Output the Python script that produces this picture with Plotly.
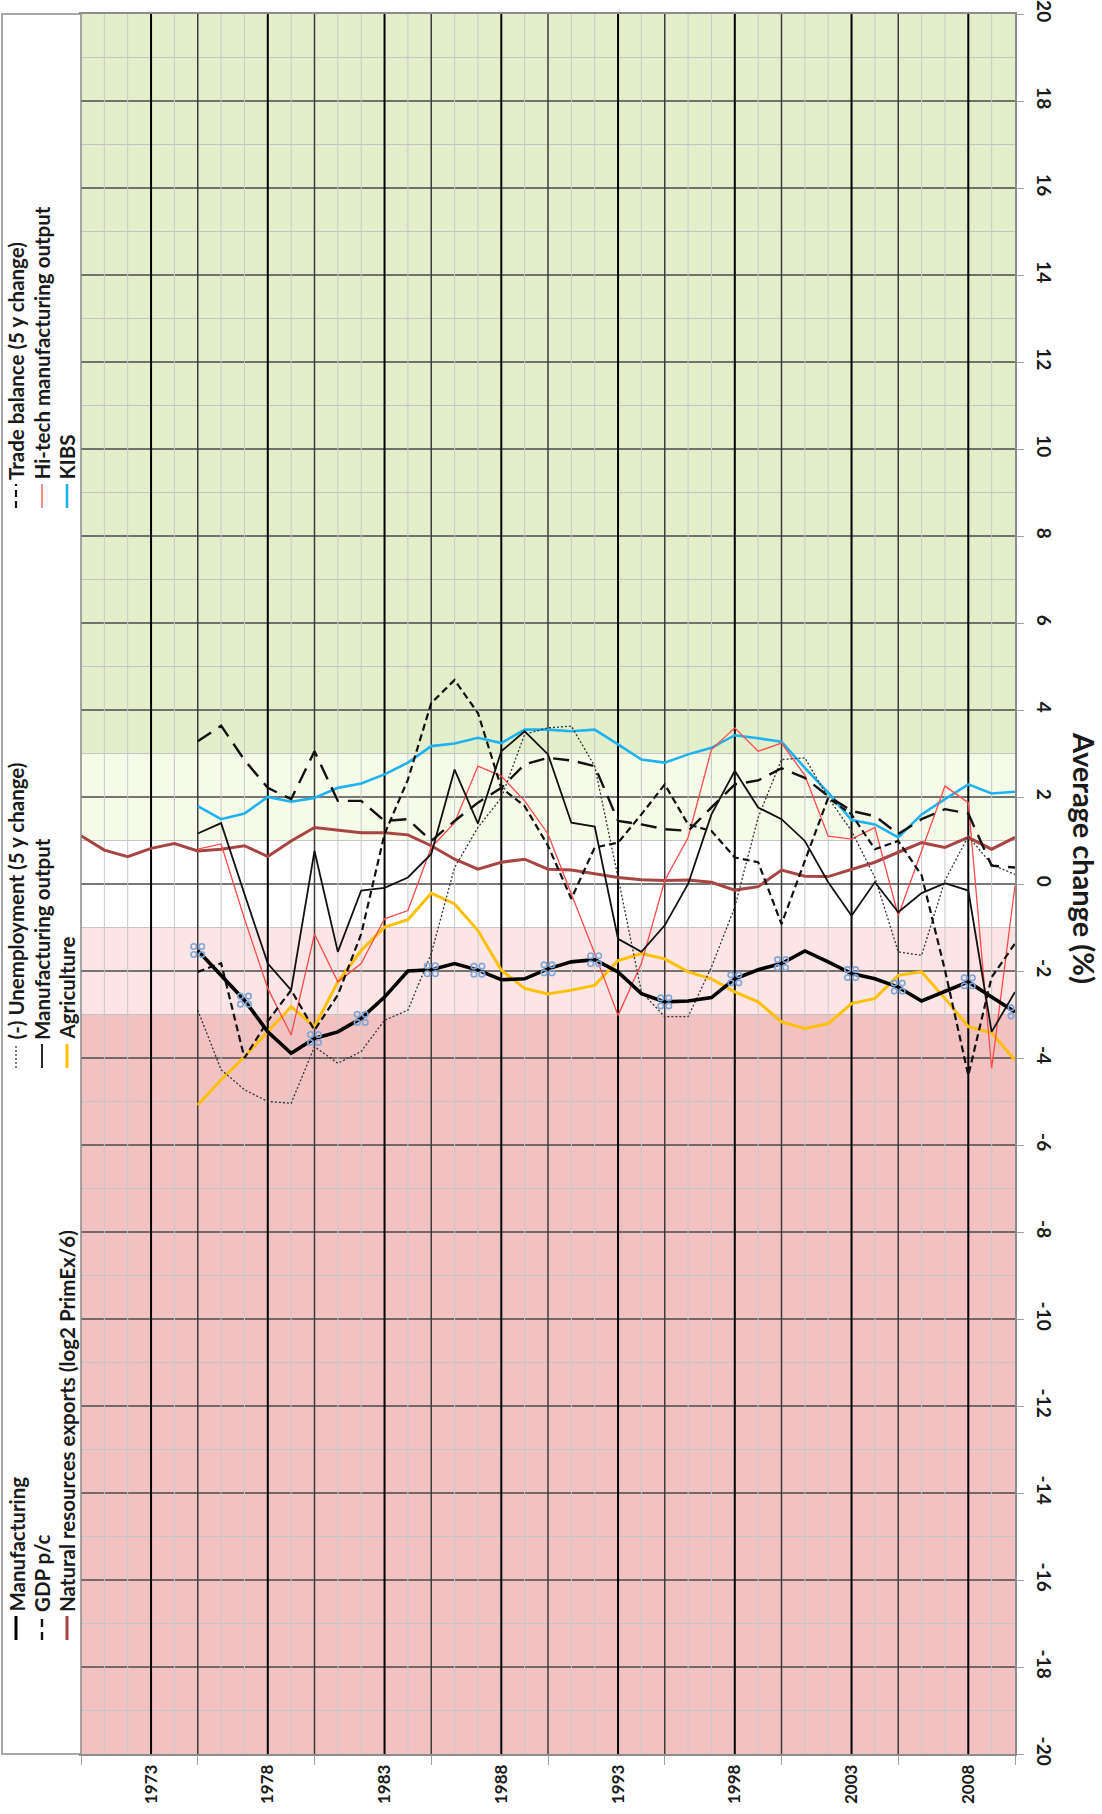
import plotly.graph_objects as go

# ---------------------------------------------------------------- data
years = list(range(1970, 2011))          # natural resources series covers all years
years_s = list(range(1975, 2011))        # all other series start in 1975

natural_resources = [1.11, 0.78, 0.63, 0.82, 0.93, 0.76, 0.80, 0.88, 0.63, 0.99,
                     1.30, 1.24, 1.18, 1.18, 1.13, 0.88, 0.57, 0.34, 0.50, 0.57,
                     0.34, 0.32, 0.23, 0.15, 0.10, 0.08, 0.09, 0.04, -0.14, -0.06,
                     0.32, 0.18, 0.17, 0.34, 0.50, 0.73, 0.95, 0.84, 1.07, 0.80, 1.07]

manufacturing = [-1.53, -2.10, -2.67, -3.40, -3.89, -3.55, -3.40, -3.09, -2.60, -2.00,
                 -1.97, -1.83, -1.98, -2.20, -2.18, -1.95, -1.79, -1.74, -2.02, -2.52,
                 -2.71, -2.69, -2.61, -2.18, -1.97, -1.83, -1.54, -1.79, -2.06, -2.18,
                 -2.37, -2.69, -2.48, -2.25, -2.60, -2.94]

manufacturing_output = [1.16, 1.40, -0.23, -1.83, -2.44, 0.76, -1.56, -0.15, -0.09, 0.15,
                        0.69, 2.63, 1.39, 3.05, 3.51, 2.98, 1.41, 1.32, -1.26, -1.56,
                        -0.95, 0.00, 1.60, 2.60, 1.76, 1.49, 0.99, 0.04, -0.73, 0.04,
                        -0.65, -0.21, 0.02, -0.15, -3.40, -2.48]

hitech_output = [0.80, 0.92, -0.80, -2.40, -3.47, -1.15, -2.25, -1.83, -0.80, -0.61,
                 0.84, 1.41, 2.71, 2.48, 1.91, 1.15, -0.23, -1.60, -3.02, -1.83,
                 0.08, 1.07, 3.09, 3.59, 3.05, 3.24, 2.50, 1.10, 1.03, 1.30,
                 -0.73, 0.76, 2.25, 1.87, -4.24, -0.04]

kibs = [1.79, 1.49, 1.62, 2.00, 1.89, 1.98, 2.21, 2.31, 2.52, 2.79,
        3.17, 3.23, 3.36, 3.24, 3.55, 3.55, 3.51, 3.55, 3.21, 2.86,
        2.79, 2.98, 3.13, 3.42, 3.35, 3.27, 2.67, 2.10, 1.47, 1.37,
        1.07, 1.60, 1.95, 2.29, 2.08, 2.12]

agriculture = [-5.08, -4.50, -3.97, -3.40, -2.82, -3.28, -2.25, -1.53, -0.99, -0.82,
               -0.21, -0.46, -1.07, -1.98, -2.40, -2.53, -2.44, -2.33, -1.76, -1.60,
               -1.72, -2.02, -2.18, -2.48, -2.71, -3.17, -3.32, -3.21, -2.75, -2.63,
               -2.10, -2.02, -2.63, -3.28, -3.42, -4.05]

gdp_pc = [3.28, 3.64, 2.85, 2.21, 1.95, 3.05, 1.91, 1.91, 1.45, 1.49,
          0.99, 1.45, 1.87, 2.21, 2.75, 2.90, 2.84, 2.71, 1.45, 1.37,
          1.26, 1.22, 1.76, 2.29, 2.38, 2.66, 2.44, 2.02, 1.68, 1.56,
          1.15, 1.49, 1.72, 1.62, 0.42, 0.38]

trade_balance = [-2.02, -1.82, -4.00, -3.15, -2.44, -3.36, -2.55, -1.15, 1.15, 2.40,
                 4.16, 4.69, 3.93, 2.21, 1.79, 0.88, -0.34, 0.84, 0.95, 1.60,
                 2.29, 1.37, 1.22, 0.61, 0.50, -0.92, 0.53, 1.98, 1.60, 0.80,
                 0.99, 0.20, -1.98, -4.40, -2.14, -1.37]

unemployment = [-2.90, -4.27, -4.73, -5.00, -5.04, -3.74, -4.12, -3.85, -3.13, -2.90,
                -1.60, 0.38, 1.30, 1.98, 3.44, 3.59, 3.63, 2.71, 0.15, -2.48,
                -3.05, -3.05, -1.91, -0.53, 1.53, 2.86, 2.90, 1.98, 1.22, 0.15,
                -1.56, -1.64, 0.08, 1.10, 0.45, 0.22]

marker_years = [1975, 1977, 1980, 1982, 1985, 1987, 1990, 1992, 1995, 1998,
                2000, 2003, 2005, 2008, 2010]

year_labels = [1973, 1978, 1983, 1988, 1993, 1998, 2003, 2008]
value_ticks = list(range(-20, 21, 2))

band_edges = [-20, -3, -1, 1, 3, 20]
band_colors = ["#F2C2C2", "#FDE5E5", "#FFFFFF", "#F6FAE8", "#E3EFCA"]

# ---------------------------------------------------------------- geometry
W, H = 1102, 1814
PX_L, PX_R, PX_T, PX_B = 81, 1015, 14, 1754


def px_x(px):
    return (px - PX_L) / (PX_R - PX_L)


def px_y(py):
    return (PX_B - py) / (PX_B - PX_T)


FONT = "Lato, Carlito, Calibri, sans-serif"

styles = {
    "Manufacturing": dict(color="#000000", width=3.6),
    "GDP p/c": dict(color="#111111", width=2.4, dash="16px,9px"),
    "Natural resources exports (log2 PrimEx/6)": dict(color="#A64543", width=3),
    "(-) Unemployment (5 y change)": dict(color="#333333", width=1.3, dash="2px,2px"),
    "Manufacturing output": dict(color="#111111", width=1.8),
    "Agriculture": dict(color="#FFC000", width=3),
    "Trade balance (5 y change)": dict(color="#111111", width=2.2, dash="7px,4px"),
    "Hi-tech manufacturing output": dict(color="#FF4A4A", width=1.3),
    "KIBS": dict(color="#1DB2F0", width=2.6),
}

fig = go.Figure()

# draw order: lighter context series first, headline series on top
series = [
    ("Natural resources exports (log2 PrimEx/6)", years, natural_resources),
    ("Agriculture", years_s, agriculture),
    ("KIBS", years_s, kibs),
    ("Hi-tech manufacturing output", years_s, hitech_output),
    ("(-) Unemployment (5 y change)", years_s, unemployment),
    ("Manufacturing output", years_s, manufacturing_output),
    ("Trade balance (5 y change)", years_s, trade_balance),
    ("GDP p/c", years_s, gdp_pc),
    ("Manufacturing", years_s, manufacturing),
]
for name, xs, ys in series:
    fig.add_trace(go.Scatter(x=xs, y=ys, mode="lines", name=name,
                             line=styles[name], showlegend=False,
                             hoverinfo="x+y+name"))

# four-ring markers on the manufacturing line
MARKER_BLUE = "#7FA6D6"
mk_vals = [manufacturing[years_s.index(y)] for y in marker_years]
dx = 4.0 / ((PX_R - PX_L) / 40.0)
dy = 4.0 / ((PX_B - PX_T) / 40.0)
for sx in (-1, 1):
    for sy in (-1, 1):
        fig.add_trace(go.Scatter(
            x=[y + sx * dx for y in marker_years],
            y=[v + sy * dy for v in mk_vals],
            mode="markers", showlegend=False, hoverinfo="skip",
            marker=dict(symbol="circle-open", size=5.5, color=MARKER_BLUE,
                        line=dict(color=MARKER_BLUE, width=1.6))))

shapes = []
# background bands
for lo, hi, col in zip(band_edges[:-1], band_edges[1:], band_colors):
    shapes.append(dict(type="rect", xref="paper", yref="y", x0=0, x1=1,
                       y0=lo, y1=hi, fillcolor=col, line=dict(width=0),
                       layer="below"))
# horizontal grid: even values dark, odd values light
for v in range(-19, 20):
    if v % 2 == 0:
        ln = dict(color="#4A4A4A", width=1.4)
    else:
        ln = dict(color="#C4C4C4", width=1)
    shapes.append(dict(type="line", xref="paper", yref="y", x0=0, x1=1,
                       y0=v, y1=v, line=ln, layer="below"))
# vertical grid: label years black, half-decades dark grey, others light
for yr in years[1:-1]:
    if yr % 5 == 3:
        ln = dict(color="#000000", width=2)
    elif yr % 5 == 0:
        ln = dict(color="#3C3C3C", width=1.5)
    else:
        ln = dict(color="#C8C8C8", width=1)
    shapes.append(dict(type="line", xref="x", yref="paper", x0=yr, x1=yr,
                       y0=0, y1=1, line=ln, layer="below"))

# legend panel on the left
shapes.append(dict(type="rect", xref="paper", yref="paper",
                   x0=px_x(2), x1=px_x(PX_L), y0=px_y(PX_B), y1=px_y(PX_T),
                   line=dict(color="#8A8A8A", width=1.5), fillcolor="white",
                   layer="above"))

legend_cols = [16, 42, 67]
legend_starts = [1640, 1068, 508]
legend_groups = [
    ["Manufacturing", "GDP p/c", "Natural resources exports (log2 PrimEx/6)"],
    ["(-) Unemployment (5 y change)", "Manufacturing output", "Agriculture"],
    ["Trade balance (5 y change)", "Hi-tech manufacturing output", "KIBS"],
]
SAMPLE = 24
annotations = []
for start, group in zip(legend_starts, legend_groups):
    for cx, name in zip(legend_cols, group):
        st = styles[name]
        dash = st.get("dash", "solid")
        if name == "GDP p/c":
            dash = "8px,5px"
        shapes.append(dict(type="line", xref="paper", yref="paper",
                           x0=px_x(cx), x1=px_x(cx),
                           y0=px_y(start), y1=px_y(start - SAMPLE),
                           line=dict(color=st["color"], width=min(st["width"], 3),
                                     dash=dash),
                           layer="above"))
        annotations.append(dict(text=name, xref="paper", yref="paper",
                                x=px_x(cx), y=px_y(start - SAMPLE - 2),
                                xanchor="center", yanchor="bottom",
                                textangle=-90, showarrow=False,
                                font=dict(family=FONT, size=20.5, color="#1A1A1A",
                                          weight="bold")))

# value-axis title on the right
annotations.append(dict(text="Average change (%)", xref="paper", yref="paper",
                        x=px_x(1085), y=px_y(858), xanchor="center",
                        yanchor="middle", textangle=90, showarrow=False,
                        font=dict(family=FONT, size=29, color="#1A1A1A",
                                  weight="bold")))

fig.update_layout(
    width=W, height=H,
    margin=dict(l=PX_L, r=W - PX_R, t=PX_T, b=H - PX_B, pad=0),
    paper_bgcolor="white", plot_bgcolor="white",
    showlegend=False,
    shapes=shapes, annotations=annotations,
    xaxis=dict(range=[1970, 2010], showgrid=False, zeroline=False,
               automargin=False,
               tickmode="array", tickvals=year_labels,
               ticktext=[str(y) for y in year_labels],
               tickangle=-90, ticks="", ticklabelstandoff=2,
               tickfont=dict(family=FONT, size=17, color="#1A1A1A", weight="bold"),
               showline=True, linecolor="#8C8C8C", linewidth=1.5, mirror=True,
               minor=dict(tickmode="array", tickvals=list(range(1970, 2011, 5)),
                          ticks="outside", ticklen=9, tickcolor="#A0A0A0",
                          tickwidth=1, showgrid=False)),
    yaxis=dict(range=[-20, 20], side="right", showgrid=False, zeroline=False,
               automargin=False,
               tickmode="array", tickvals=value_ticks,
               ticktext=[str(v) for v in value_ticks],
               tickangle=90, ticks="outside", ticklen=7, tickcolor="#A0A0A0",
               tickwidth=1, ticklabelstandoff=6,
               tickfont=dict(family=FONT, size=19, color="#1A1A1A", weight="bold"),
               showline=True, linecolor="#8C8C8C", linewidth=1.5, mirror=True),
)

fig.write_html("out.html")
